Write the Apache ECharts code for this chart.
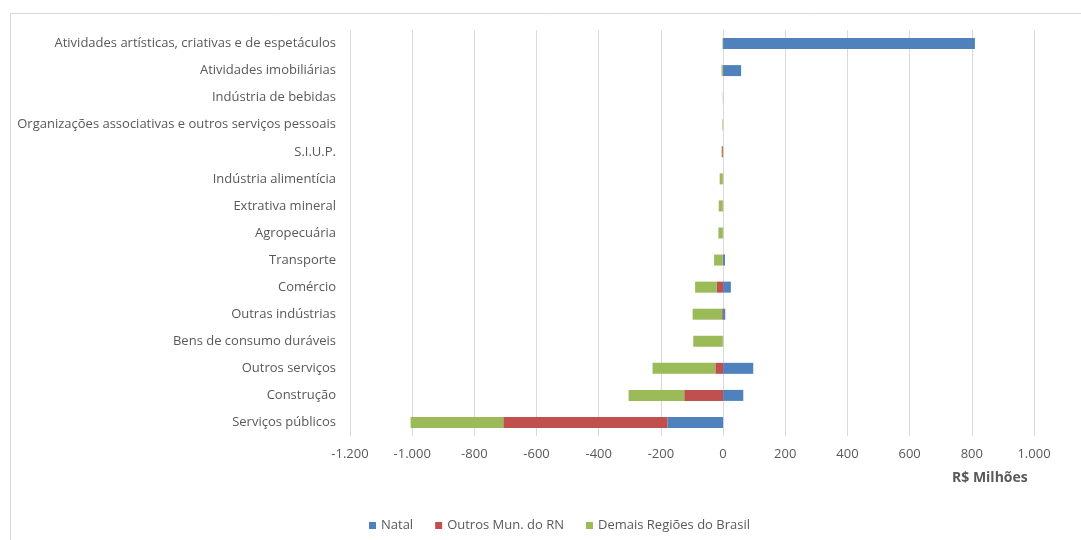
<!DOCTYPE html>
<html><head><meta charset="utf-8">
<script src="https://cdn.jsdelivr.net/npm/echarts@6/dist/echarts.min.js"></script>
<style>html,body{margin:0;padding:0;background:#fff}#c{width:1081px;height:540px}</style>
</head><body><div id="c"></div>
<script>
const categories = [
  "Atividades artísticas, criativas e de espetáculos",
  "Atividades imobiliárias",
  "Indústria de bebidas",
  "Organizações associativas e outros serviços pessoais",
  "S.I.U.P.",
  "Indústria alimentícia",
  "Extrativa mineral",
  "Agropecuária",
  "Transporte",
  "Comércio",
  "Outras indústrias",
  "Bens de consumo duráveis",
  "Outros serviços",
  "Construção",
  "Serviços públicos"
];
const natal  = [810, 58, 0, 0, 0, 0, 0, 0, 6, 25, 7, 0, 97, 65, -179];
const outros = [0, -1, 0, 0, -3, -1, -1, -1, -1, -20, -3, -1, -25, -125, -528];
const demais = [-2, -4, -1, -2, -2, -10, -13, -14, -28, -70, -95, -95, -202, -179, -298];
const seriesNames = ["Natal", "Outros Mun. do RN", "Demais Regiões do Brasil"];
const colors = ["#4F81BD", "#C0504D", "#9BBB59"];

const font = "'Open Sans', sans-serif";
const chart = echarts.init(document.getElementById('c'), null, {renderer: 'canvas'});
function fmt(v){
  const s = Math.abs(v).toString().replace(/\B(?=(\d{3})+(?!\d))/g, '.');
  return (v < 0 ? '-' : '') + s;
}
const mk = (name, data, i) => ({
  name, type: 'bar', stack: 'tot', data, barWidth: 11,
  itemStyle: {color: colors[i]}, animation: false
});
chart.setOption({
  animation: false,
  textStyle: {fontFamily: font},
  grid: {left: 350, right: 47, top: 30, bottom: 104, containLabel: false},
  xAxis: {
    type: 'value', min: -1200, max: 1000, interval: 200,
    axisLine: {show: false}, axisTick: {show: false},
    splitLine: {lineStyle: {color: '#d9d9d9', width: 1}},
    axisLabel: {color: '#595959', fontSize: 13, fontFamily: font, margin: 12, formatter: fmt}
  },
  yAxis: {
    type: 'category', data: categories, inverse: true,
    axisLine: {show: true, lineStyle: {color: '#d9d9d9'}}, axisTick: {show: false},
    axisLabel: {color: '#595959', fontSize: 13, fontFamily: font, margin: 14}
  },
  legend: {
    top: 514, left: 364, itemWidth: 7, itemHeight: 7, itemGap: 22,
    icon: 'rect', textStyle: {color: '#595959', fontSize: 13, fontFamily: font},
    data: seriesNames
  },
  graphic: [
    {type: 'rect', left: 8, top: 11, silent: true,
     shape: {x: 0, y: 0, width: 1100, height: 600},
     style: {fill: 'none', stroke: '#d9d9d9', lineWidth: 1}},
    {type: 'text', left: 952, top: 471,
     style: {text: 'R$ Milhões', font: "bold 14px " + font, fill: '#595959'}}
  ],
  series: [mk(seriesNames[0], natal, 0), mk(seriesNames[1], outros, 1), mk(seriesNames[2], demais, 2)]
});
</script></body></html>
